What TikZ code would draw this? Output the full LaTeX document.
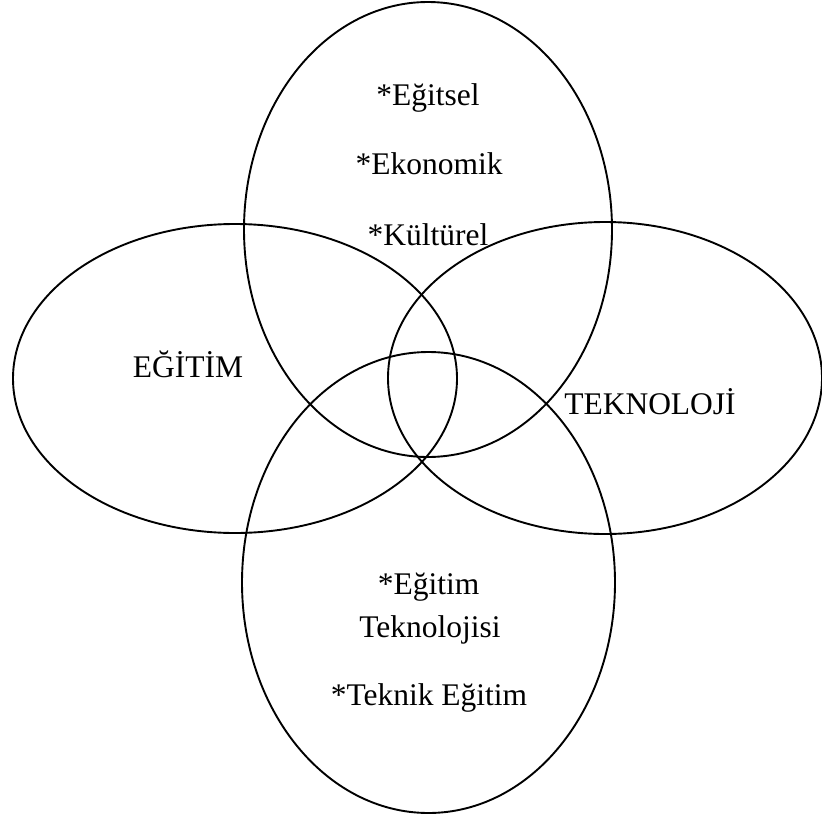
\documentclass[tikz,border=0pt]{standalone}
\usepackage{fontspec}
\setmainfont{Liberation Serif}
\begin{document}
\begin{tikzpicture}[x=1pt,y=-1pt,
  ring/.style={draw=black,line width=1.9pt},
  lbl/.style={anchor=base,inner sep=0pt,font=\fontsize{31.5}{38}\selectfont}]
\useasboundingbox (0,0) rectangle (822,819);
\draw[ring] (428,229.5) ellipse [x radius=184,y radius=227.5];
\draw[ring] (235,378.5) ellipse [x radius=222,y radius=154.5];
\draw[ring] (605,378) ellipse [x radius=217,y radius=156];
\draw[ring] (428.5,582.5) ellipse [x radius=186.5,y radius=230.5];
\node[lbl] (t1) at (428,105) {*Eğitsel};
\node[lbl] (t2) at (429,174) {*Ekonomik};
\node[lbl] (t3) at (428,245) {*Kültürel};
\node[lbl] (egt) at (188,377) {EĞİTİM};
\node[lbl] (tek) at (650,414) {TEKNOLOJİ};
\node[lbl] (b1) at (428.5,594) {*Eğitim};
\node[lbl] (b2) at (430,637) {Teknolojisi};
\node[lbl] (b3) at (429,705) {*Teknik Eğitim};
\end{tikzpicture}
\end{document}
